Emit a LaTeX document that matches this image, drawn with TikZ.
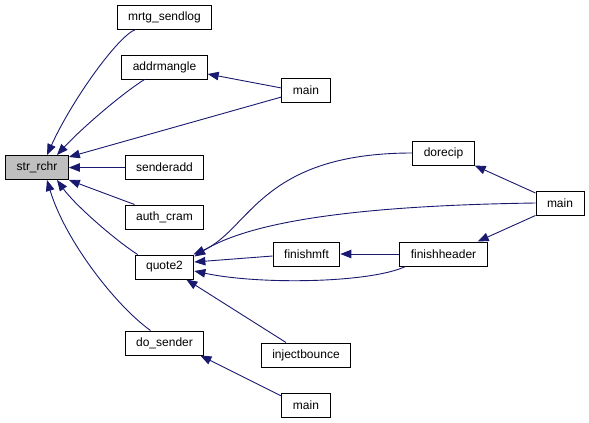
\documentclass[tikz,border=0pt]{standalone}
\usepackage{fontspec}
\setmainfont{Liberation Sans}
\usetikzlibrary{arrows.meta}
\definecolor{callblue}{RGB}{25,25,112}
\definecolor{rootgray}{RGB}{191,191,191}
\tikzset{
  fn/.style={draw=black, line width=1pt, fill=white, minimum height=24pt,
    inner xsep=11pt, inner ysep=0pt, font=\fontsize{12}{14}\selectfont},
  call/.style={draw=callblue, line width=0.9pt, -{Triangle[length=11pt,width=8.5pt]}}
}
\begin{document}
\begin{tikzpicture}[x=1pt, y=-1pt]
\useasboundingbox (0,0) rectangle (589,423);

% functions
\node[fn, fill=rootgray](strrchr) at (37,167.5) {str\_rchr};
\node[fn](mrtg) at (164.5,17) {mrtg\_sendlog};
\node[fn](addr) at (164.5,67) {addrmangle};
\node[fn](senderadd) at (164.5,167.5) {senderadd};
\node[fn](authcram) at (164.5,217) {auth\_cram};
\node[fn](quote) at (164.5,267) {quote2};
\node[fn](dosender) at (164.5,343) {do\_sender};
\node[fn](mainA) at (306,90) {main};
\node[fn](finishmft) at (306.5,254) {finishmft};
\node[fn](inject) at (306,355) {injectbounce};
\node[fn](mainB) at (306,405) {main};
\node[fn](dorecip) at (443.5,153) {dorecip};
\node[fn](finishheader) at (443.5,254) {finishheader};
\node[fn](mainC) at (560,203) {main};

% calls into str_rchr
\draw[call]([xshift=-29pt]mrtg.south) .. controls (118,36) and (72,100) .. ([xshift=10pt]strrchr.north);
\draw[call]([xshift=-20pt]addr.south) .. controls (120,95) and (80,130) .. ([xshift=20pt]strrchr.north);
\draw[call]([yshift=-7pt]mainA.west) -- ([yshift=-2pt]strrchr.north east);
\draw[call](senderadd.west) -- (strrchr.east);
\draw[call]([xshift=-30pt]authcram.north) -- (strrchr.south east);
\draw[call]([xshift=3pt]quote.north west) .. controls (115,240) and (75,205) .. ([xshift=20pt]strrchr.south);
\draw[call]([xshift=-14pt]dosender.north) .. controls (115,305) and (65,240) .. ([xshift=10pt]strrchr.south);

\draw[call]([yshift=2pt]mainA.west) -- ([yshift=-7pt]addr.east);

% calls into quote2
\draw[call](dorecip.west) .. controls (260,153) and (250,230) .. ([xshift=-1pt]quote.north east);
\draw[call](mainC.west) .. controls (400,205) and (260,215) .. ([yshift=-2pt]quote.north east);
\draw[call]([yshift=-2pt]finishmft.west) -- ([yshift=5pt]quote.east);
\draw[call]([xshift=-38pt]finishheader.south) .. controls (370,283) and (260,285) .. ([yshift=-4pt]quote.east);
\draw[call]([xshift=-20pt]inject.north) -- ([xshift=-8pt]quote.south east);

\draw[call](finishheader.west) -- (finishmft.east);
\draw[call]([yshift=10pt]mainC.west) -- (dorecip.south east);
\draw[call](mainC.south west) -- ([xshift=-10pt]finishheader.north east);
\draw[call]([yshift=9pt]mainB.west) -- ([xshift=-4pt]dosender.south east);
\end{tikzpicture}
\end{document}
